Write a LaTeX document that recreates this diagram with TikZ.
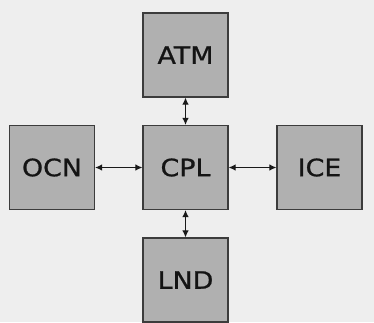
\documentclass[tikz,border=0pt]{standalone}
\usepackage{fontspec}
\setmainfont{DejaVu Sans}
\newfontfamily\lblfont[FakeBold=0.8]{DejaVu Sans}
\usetikzlibrary{arrows.meta}
\definecolor{bg}{HTML}{EEEEEE}
\definecolor{boxfill}{HTML}{B0B0B0}
\definecolor{boxline}{HTML}{3C3C3C}
\newcommand{\lbl}[1]{\scalebox{1.12}[1]{#1}}
\tikzset{
  comp/.style={draw=boxline, fill=boxfill, line width=1.2pt, minimum width=85pt, minimum height=84pt, inner sep=0pt, font=\lblfont\fontsize{24}{27}\selectfont, text=black!92},
  link/.style={line width=1.1pt, draw=black!90, {Latex[length=7pt,width=6.5pt]}-{Latex[length=7pt,width=6.5pt]}}
}
\begin{document}
\begin{tikzpicture}[x=1pt,y=-1pt]
\fill[bg] (0,0) rectangle (374,322);
\useasboundingbox (0,0) rectangle (374,322);
\node[comp] (atm) at (185.5,55) {\lbl{ATM}};
\node[comp] (cpl) at (185.5,167.5) {\lbl{CPL}};
\node[comp] (ocn) at (52,167.5) {\lbl{OCN}};
\node[comp] (ice) at (319.5,167.5) {\lbl{ICE}};
\node[comp] (lnd) at (185.5,280) {\lbl{LND}};
\draw[link] (atm.south) -- (cpl.north);
\draw[link] (cpl.south) -- (lnd.north);
\draw[link] (ocn.east) -- (cpl.west);
\draw[link] (cpl.east) -- (ice.west);
\end{tikzpicture}
\end{document}
